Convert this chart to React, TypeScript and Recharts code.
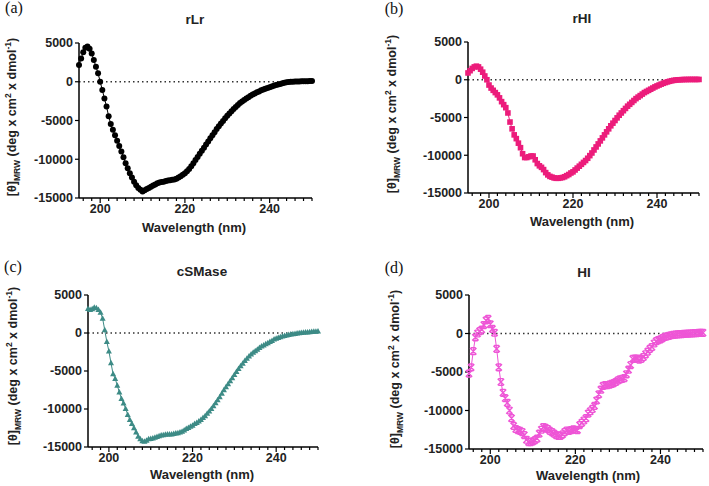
import React from 'react';
import { LineChart, Line, XAxis, YAxis, ReferenceLine } from 'recharts';

const wavelengths = [
  195, 195.5, 196, 196.5, 197, 197.5, 198, 198.5, 199, 199.5,
  200, 200.5, 201, 201.5, 202, 202.5, 203, 203.5, 204, 204.5,
  205, 205.5, 206, 206.5, 207, 207.5, 208, 208.5, 209, 209.5,
  210, 210.5, 211, 211.5, 212, 212.5, 213, 213.5, 214, 214.5,
  215, 215.5, 216, 216.5, 217, 217.5, 218, 218.5, 219, 219.5,
  220, 220.5, 221, 221.5, 222, 222.5, 223, 223.5, 224, 224.5,
  225, 225.5, 226, 226.5, 227, 227.5, 228, 228.5, 229, 229.5,
  230, 230.5, 231, 231.5, 232, 232.5, 233, 233.5, 234, 234.5,
  235, 235.5, 236, 236.5, 237, 237.5, 238, 238.5, 239, 239.5,
  240, 240.5, 241, 241.5, 242, 242.5, 243, 243.5, 244, 244.5,
  245, 245.5, 246, 246.5, 247, 247.5, 248, 248.5, 249, 249.5,
  250,
];

const rLr = [
  2150, 3000, 3800, 4400, 4550, 4250, 3650, 2800, 1950, 1100,
  0, -1050, -2150, -3200, -4450, -5450, -6200, -6900, -7600, -8300,
  -9000, -9750, -10500, -11150, -11800, -12350, -12900, -13350, -13700, -13950,
  -14150, -14000, -13850, -13700, -13550, -13400, -13250, -13100, -13000, -12950,
  -12900, -12800, -12750, -12700, -12650, -12600, -12500, -12350, -12200, -12000,
  -11800, -11550, -11250, -10900, -10500, -10100, -9700, -9300, -8900, -8500,
  -8100, -7700, -7300, -6900, -6500, -6100, -5750, -5400, -5050, -4700,
  -4400, -4100, -3800, -3500, -3250, -3000, -2750, -2550, -2350, -2150,
  -2000, -1800, -1650, -1500, -1350, -1250, -1100, -1000, -900, -800,
  -700, -600, -500, -420, -350, -280, -200, -130, -80, -30,
  0, 0, 20, 30, 40, 50, 60, 70, 80, 90,
  100,
];

const rHI = [
  900, 1200, 1500, 1700, 1800, 1700, 1400, 1000, 500, 0,
  -700, -1100, -1400, -1700, -2000, -2400, -2900, -3300, -3700, -4400,
  -5600, -6500, -7300, -7800, -8400, -9000, -9800, -10300, -10300, -10200,
  -10100, -10100, -10600, -11100, -11400, -11600, -11900, -12300, -12600, -12800,
  -12900, -13000, -13050, -13050, -13000, -12950, -12850, -12700, -12550, -12350,
  -12200, -11950, -11700, -11450, -11200, -10950, -10700, -10400, -10050, -9700,
  -9300, -8900, -8500, -8100, -7700, -7300, -6900, -6500, -6100, -5750,
  -5400, -5050, -4700, -4400, -4100, -3800, -3500, -3250, -3000, -2750,
  -2500, -2300, -2100, -1900, -1700, -1550, -1400, -1250, -1100, -950,
  -820, -700, -580, -470, -370, -280, -200, -130, -80, -40,
  -10, 0, 20, 30, 30, 40, 40, 40, 40, 40,
  40,
];

const cSMase = [
  3200, 3050, 3150, 3350, 3300, 3050, 2700, 1900, 400, -1150,
  -2400, -3950, -5400, -6000, -6900, -7800, -8650, -9250, -9950, -10750,
  -11400, -11950, -12500, -13050, -13600, -13950, -14200, -14270, -14150, -13950,
  -13900, -13850, -13750, -13650, -13550, -13450, -13400, -13350, -13300, -13300,
  -13300, -13250, -13200, -13150, -13050, -12950, -12800, -12600, -12450, -12300,
  -12150, -11950, -11800, -11600, -11400, -11150, -10900, -10600, -10300, -9950,
  -9600, -9200, -8800, -8400, -7950, -7500, -7100, -6700, -6300, -5900,
  -5500, -5100, -4700, -4350, -4000, -3650, -3350, -3050, -2800, -2550,
  -2350, -2150, -1950, -1750, -1600, -1450, -1300, -1150, -1000, -830,
  -720, -620, -520, -430, -350, -280, -220, -170, -120, -80,
  -40, 0, 30, 60, 90, 120, 150, 180, 200, 220,
  240,
];

const HI = [
  -5200, -4400, -2300, -500, 0, 300, 500, 1100, 1700, 1900,
  1200, 600, 100, -2000, -4400, -6300, -7700, -8400, -9000, -10000,
  -11000, -12000, -12400, -12550, -12650, -12800, -13200, -13800, -14100, -14100,
  -14000, -13850, -13650, -13000, -12500, -12150, -12250, -12400, -12650, -12800,
  -13000, -13200, -13300, -13300, -13100, -12800, -12600, -12650, -12550, -12450,
  -12500, -12550, -11900, -11600, -11300, -11000, -10400, -10100, -9800, -9400,
  -8700, -7900, -7300, -6800, -6700, -6700, -6650, -6550, -6450, -6300,
  -6100, -5950, -5900, -5800, -5300, -4700, -4100, -3300, -3250, -3250,
  -3400, -3300, -3050, -2700, -2350, -2000, -1750, -1300, -1000, -850,
  -750, -600, -450, -370, -300, -230, -180, -140, -110, -90,
  -70, -50, -30, -10, 0, 20, 40, 50, 70, 80,
  90,
];

const xTicks = [
  196, 198, 200, 202, 204, 206, 208, 210, 212, 214, 216, 218, 220, 222,
  224, 226, 228, 230, 232, 234, 236, 238, 240, 242, 244, 246, 248, 250,
];
const xMajor = [200, 220, 240];
const yTicks = [-15000, -10000, -5000, 0, 5000];

const FONT = '"Liberation Sans", Arial, sans-serif';

function XTick({ x, y, payload }: any) {
  const major = xMajor.includes(payload.value);
  return (
    <g>
      <line x1={x} x2={x} y1={y} y2={y + (major ? 5 : 3)} stroke="#000" strokeWidth={1.2} />
      {major && (
        <text x={x} y={y + 15} textAnchor="middle" fontSize={12.5} fontWeight="bold" fontFamily={FONT} fill="#222">
          {payload.value}
        </text>
      )}
    </g>
  );
}

const dotShapes: Record<string, (color: string) => (p: any) => React.ReactElement> = {
  circle: (color) => (p) => <circle key={p.index} cx={p.cx} cy={p.cy} r={3} fill={color} />,
  square: (color) => (p) => <rect key={p.index} x={p.cx - 2.8} y={p.cy - 2.8} width={5.6} height={5.6} fill={color} />,
  triangle: (color) => (p) => (
    <path key={p.index} d={`M${p.cx},${p.cy - 3.2} L${p.cx + 3},${p.cy + 2.3} L${p.cx - 3},${p.cy + 2.3} Z`} fill={color} />
  ),
  cross: (color) => (p) => (
    <path
      key={p.index}
      d={`M${p.cx - 3.2},${p.cy - 3.2} L${p.cx + 3.2},${p.cy + 3.2} M${p.cx + 3.2},${p.cy - 3.2} L${p.cx - 3.2},${p.cy + 3.2} M${p.cx - 2.4},${p.cy - 3.4} L${p.cx + 2.4},${p.cy - 3.4} M${p.cx - 2.4},${p.cy + 3.4} L${p.cx + 2.4},${p.cy + 3.4}`}
      stroke={color}
      strokeWidth={1.4}
      fill="none"
    />
  ),
};

type Box = { x0: number; x1: number; y0: number; y1: number };

function Panel({ values, color, shape, box }: { values: number[]; color: string; shape: string; box: Box }) {
  const data = wavelengths.map((wl, i) => ({ wl, v: values[i] }));
  const w = box.x1 - box.x0 + 80;
  const h = box.y1 - box.y0 + 40;
  return (
    <div style={{ position: 'absolute', left: box.x0 - 70, top: box.y0 - 10 }}>
      <LineChart width={w} height={h} data={data} margin={{ top: 10, right: 10, left: 10, bottom: 0 }}>
        <XAxis
          dataKey="wl"
          type="number"
          domain={[195, 250]}
          ticks={xTicks}
          interval={0}
          tick={<XTick />}
          tickLine={false}
          tickSize={0}
          tickMargin={0}
          height={30}
          axisLine={{ stroke: '#000', strokeWidth: 1.5 }}
        />
        <YAxis
          type="number"
          domain={[-15000, 5000]}
          ticks={yTicks}
          interval={0}
          width={60}
          tickSize={4}
          tickLine={{ stroke: '#000', strokeWidth: 1.2 }}
          axisLine={{ stroke: '#000', strokeWidth: 1.5 }}
          tick={{ fontSize: 12.5, fontWeight: 'bold', fontFamily: FONT, fill: '#222' }}
        />
        <ReferenceLine y={0} stroke="#333" strokeWidth={1.3} strokeDasharray="1.5 3" />
        <Line
          type="linear"
          dataKey="v"
          stroke={color}
          strokeWidth={1}
          dot={dotShapes[shape](color)}
          activeDot={false}
          isAnimationActive={false}
        />
      </LineChart>
    </div>
  );
}

function Txt({ x, y, size, children, rotate, serif }: any) {
  return (
    <div
      style={{
        position: 'absolute',
        left: x,
        top: y,
        transform: `translate(-50%, -50%)${rotate ? ' rotate(-90deg)' : ''}`,
        whiteSpace: 'nowrap',
        fontFamily: serif ? '"Liberation Serif", "Times New Roman", serif' : FONT,
        fontWeight: serif ? 'normal' : 'bold',
        fontSize: size,
        lineHeight: 1,
        color: serif ? '#111' : '#222',
      }}
    >
      {children}
    </div>
  );
}

const yLabel = (
  <span>
    [θ]<sub style={{ fontSize: 8.5 }}>MRW</sub> (deg x cm<sup style={{ fontSize: 8.5 }}>2</sup> x dmol
    <sup style={{ fontSize: 8.5 }}>-1</sup>)
  </span>
);

export default function App() {
  return (
    <div style={{ position: 'absolute', left: 0, top: 0, width: 709, height: 486, overflow: 'hidden', background: '#fff' }}>
      <Panel values={rLr} color="#000000" shape="circle" box={{ x0: 79, x1: 312, y0: 43, y1: 198 }} />
      <Panel values={rHI} color="#EC1C7B" shape="square" box={{ x0: 468, x1: 699, y0: 42, y1: 193 }} />
      <Panel values={cSMase} color="#3D8B86" shape="triangle" box={{ x0: 88, x1: 318, y0: 295, y1: 447 }} />
      <Panel values={HI} color="#EE55D6" shape="cross" box={{ x0: 469, x1: 703, y0: 295, y1: 449 }} />

      <Txt x={14} y={8} size={16} serif>(a)</Txt>
      <Txt x={394} y={9} size={16} serif>(b)</Txt>
      <Txt x={13} y={267} size={16} serif>(c)</Txt>
      <Txt x={394} y={268} size={16} serif>(d)</Txt>

      <Txt x={195} y={20} size={13.5}>rLr</Txt>
      <Txt x={582} y={19} size={13.5}>rHI</Txt>
      <Txt x={202} y={272} size={13.5}>cSMase</Txt>
      <Txt x={584} y={273} size={13.5}>HI</Txt>

      <Txt x={194} y={227} size={13}>Wavelength (nm)</Txt>
      <Txt x={582} y={221} size={13}>Wavelength (nm)</Txt>
      <Txt x={202} y={474} size={13}>Wavelength (nm)</Txt>
      <Txt x={588} y={475} size={13}>Wavelength (nm)</Txt>

      <Txt x={13} y={117} size={12.5} rotate>{yLabel}</Txt>
      <Txt x={393} y={114} size={12.5} rotate>{yLabel}</Txt>
      <Txt x={14} y={366} size={12.5} rotate>{yLabel}</Txt>
      <Txt x={396} y={369} size={12.5} rotate>{yLabel}</Txt>
    </div>
  );
}
